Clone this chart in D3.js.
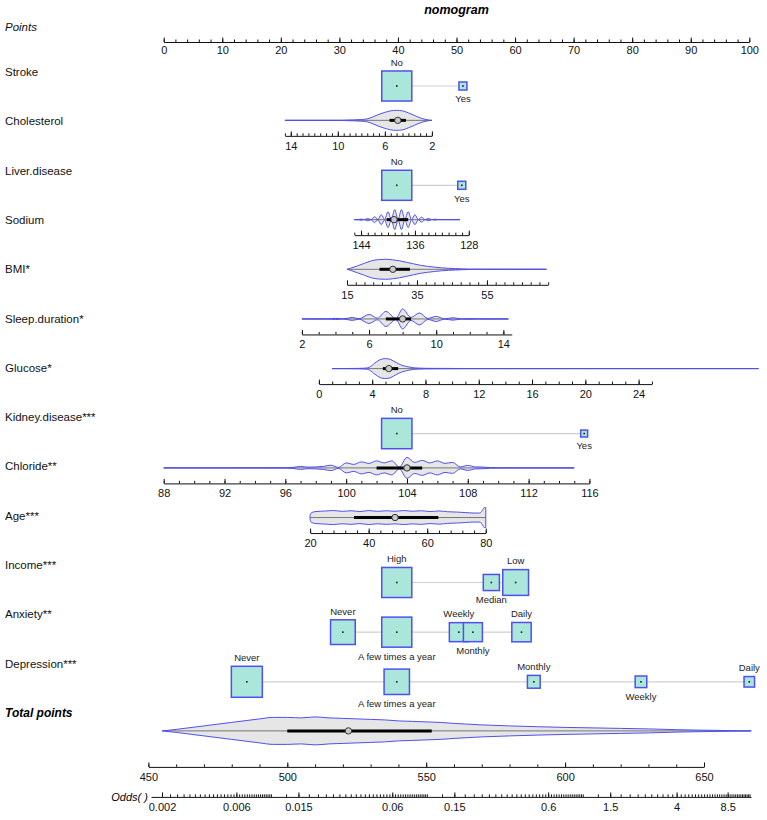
<!DOCTYPE html>
<html>
<head>
<meta charset="utf-8">
<script src="https://cdn.jsdelivr.net/npm/d3@7"></script>
<style>
  body { margin: 0; background: #fff; }
  svg { font-family: "Liberation Sans", Arial, sans-serif; }
</style>
</head>
<body>
<svg id="chart" width="767" height="820"></svg>
<script>
// ---- data ----
const pointLabels = [0, 10, 20, 30, 40, 50, 60, 70, 80, 90, 100];

const rowNames = ["Stroke", "Cholesterol", "Liver.disease", "Sodium", "BMI*", "Sleep.duration*",
  "Glucose*", "Kidney.disease***", "Chloride**", "Age***", "Income***", "Anxiety**", "Depression***"];

// categorical predictors: level, points, relative frequency (drives box size)
const strokeLevels = ["No", "Yes"];
const strokePoints = [39.8, 51.1];
const strokeShare = [0.94, 0.067];

const liverLevels = ["No", "Yes"];
const liverPoints = [39.8, 50.9];
const liverShare = [0.94, 0.067];

const kidneyLevels = ["No", "Yes"];
const kidneyPoints = [39.8, 71.8];
const kidneyShare = [0.96, 0.05];

const incomeLevels = ["High", "Median", "Low"];
const incomePoints = [39.8, 55.95, 60.1];
const incomeShare = [0.94, 0.27, 0.69];

const anxietyLevels = ["Never", "A few times a year", "Weekly", "Monthly", "Daily"];
const anxietyPoints = [30.6, 39.8, 50.4, 52.8, 61.1];
const anxietyShare = [0.635, 0.94, 0.376, 0.376, 0.39];

const depressionLevels = ["Never", "A few times a year", "Monthly", "Weekly", "Daily"];
const depressionPoints = [14.2, 39.8, 63.2, 81.5, 100];
const depressionShare = [1.0, 0.67, 0.17, 0.14, 0.115];

// continuous predictors: [value, points] anchors, axis extent, labels, minor step,
// density profile [value, relative density], median, IQR
const cholAnchor = [[2, 45.8], [14, 21.7]];
const cholExtent = [14.5, 2];
const cholLabels = [14, 10, 6, 2];
const cholMinor = 0.5;
const cholDensity = [[14.5, 0], [10, 0], [9.2, 0.03], [8, 0.08], [7.5, 0.15], [7, 0.35], [6.5, 0.6],
  [6, 0.8], [5.5, 0.95], [5, 1.0], [4.5, 0.95], [4, 0.75], [3.5, 0.5], [3, 0.25], [2.5, 0.08], [2, 0]];
const cholMedian = 4.9;
const cholIQR = [4.2, 5.6];

const sodiumAnchor = [[144, 33.7], [128, 52.1]];
const sodiumExtent = [145, 128];
const sodiumLabels = [144, 136, 128];
const sodiumMinor = 1;
const sodiumDensity = [[145, 0], [144.5, 0], [144, 0.06], [143.5, 0], [143, 0.12], [142.5, 0],
  [142, 0.3], [141.5, 0.01], [141, 0.5], [140.5, 0.02], [140, 0.8], [139.5, 0.03], [139, 1.0],
  [138.5, 0.03], [138, 1.0], [137.5, 0.03], [137, 0.8], [136.5, 0.02], [136, 0.5], [135.5, 0.01],
  [135, 0.25], [134.5, 0], [134, 0.12], [133.5, 0], [133, 0.05], [132.5, 0], [129.3, 0]];
const sodiumMedian = 139.1;
const sodiumIQR = [137, 140.2];

const bmiAnchor = [[15, 31.3], [55, 55.2]];
const bmiExtent = [15, 72.5];
const bmiLabels = [15, 35, 55];
const bmiMinor = 2.5;
const bmiDensity = [[15, 0], [16, 0.1], [18, 0.35], [20, 0.6], [22, 0.85], [24, 0.97], [26, 1.0],
  [28, 0.95], [30, 0.85], [32, 0.7], [34, 0.55], [36, 0.4], [38, 0.3], [40, 0.22], [42, 0.15],
  [44, 0.1], [46, 0.07], [48, 0.04], [50, 0.02], [55, 0.01], [60, 0.01], [65, 0.005], [72, 0]];
const bmiMedian = 28.1;
const bmiIQR = [24.3, 33];

const sleepAnchor = [[2, 23.6], [14, 58.0]];
const sleepExtent = [2, 14.5];
const sleepLabels = [2, 6, 10, 14];
const sleepMinor = 1;
const sleepDensity = [[2, 0], [3, 0.02], [3.5, 0], [4, 0.06], [4.5, 0.01], [5, 0.15], [5.4, 0.02],
  [6, 0.45], [6.5, 0.08], [7, 0.75], [7.6, 0.05], [8, 1.0], [8.5, 0.15], [9, 0.6], [9.5, 0.05],
  [10, 0.25], [10.5, 0.02], [11, 0.12], [11.5, 0.01], [12, 0.04], [12.5, 0], [13, 0.02], [14.3, 0]];
const sleepMedian = 8;
const sleepIQR = [7, 8.5];

const glucoseAnchor = [[0, 26.5], [16, 62.9]];
const glucoseExtent = [0, 25];
const glucoseLabels = [0, 4, 8, 12, 16, 20, 24];
const glucoseMinor = 1;
const glucoseDensity = [[1, 0], [3, 0.02], [3.5, 0.05], [3.8, 0.15], [4.2, 0.55], [4.6, 0.9],
  [5, 1.0], [5.4, 0.9], [5.8, 0.6], [6.2, 0.35], [6.6, 0.2], [7, 0.1], [7.5, 0.05], [8, 0.03],
  [9, 0.02], [10, 0.015], [11, 0.01], [12, 0.005], [14, 0.003], [20, 0.002], [33, 0]];
const glucoseMedian = 5.25;
const glucoseIQR = [4.8, 5.95];

const chlorideAnchor = [[88, 0], [116, 72.7]];
const chlorideExtent = [88, 116];
const chlorideLabels = [88, 92, 96, 100, 104, 108, 112, 116];
const chlorideMinor = 1;
const chlorideDensity = [[88, 0], [96, 0.02], [96.5, 0.05], [97, 0.15], [97.5, 0.08], [98, 0.1],
  [98.5, 0.15], [99, 0.27], [99.5, 0.05], [100, 0.5], [100.5, 0.35], [101, 0.6], [101.5, 0.45],
  [102, 0.7], [102.5, 0.5], [103, 0.7], [103.5, 0.1], [104, 1.05], [104.5, 0.55], [105, 0.75],
  [105.5, 0.5], [106, 0.7], [106.5, 0.45], [107, 0.55], [107.5, 0.1], [108, 0.25], [108.5, 0.1],
  [109, 0.08], [109.5, 0.03], [110, 0.01], [115, 0]];
const chlorideMedian = 104;
const chlorideIQR = [102, 105];

const ageAnchor = [[20, 25.0], [80, 55.0]];
const ageExtent = [20, 80];
const ageLabels = [20, 40, 60, 80];
const ageMinor = 4;
const ageDensity = [[20, 0.25], [20.5, 0.5], [22, 0.6], [25, 0.65], [28, 0.7], [31, 0.62], [34, 0.68],
  [37, 0.6], [40, 0.7], [43, 0.62], [46, 0.68], [49, 0.63], [52, 0.7], [55, 0.63], [58, 0.68],
  [61, 0.6], [64, 0.66], [67, 0.58], [70, 0.55], [73, 0.5], [76, 0.45], [78, 0.45], [79, 0.8],
  [79.5, 1.0], [80, 1.0]];
const ageMedian = 49;
const ageIQR = [35, 63.8];

// total points and odds
const totalLabels = [450, 500, 550, 600, 650];
const totalDensity = [[455, 0], [460, 0.15], [470, 0.5], [480, 0.85], [490, 1.2], [495, 1.35],
  [500, 1.35], [505, 1.3], [510, 1.4], [515, 1.3], [520, 1.25], [525, 1.2], [530, 1.15], [535, 1.1],
  [540, 1.0], [545, 0.95], [550, 0.9], [555, 0.85], [560, 0.75], [570, 0.6], [580, 0.5], [590, 0.42],
  [600, 0.35], [610, 0.3], [620, 0.25], [630, 0.2], [640, 0.12], [650, 0.07], [660, 0.03], [667, 0]];
const totalMedian = 522;
const totalIQR = [500, 552];

const oddsLabels = [0.002, 0.006, 0.015, 0.06, 0.15, 0.6, 1.5, 4, 8.5];

// ---- drawing ----
const svg = d3.select("#chart");
const BLUE = "#5050ee", FILL = "#e6e6e6", MINT = "#abe6da";

const x = d3.scaleLinear().domain([0, 100]).range([163.7, 749.3]);
const rowY = i => 72 + i * 49.3;          // label rows
const markY = i => 86 + i * 49.65;        // box centre rows
const halfH = d3.scaleLinear().domain([0, 1]).range([0, 10]);
const boxSide = d3.scaleSqrt().domain([0, 1]).range([0, 31]);

function varScale(anchor, extent) {
  const s = d3.scaleLinear().domain(anchor.map(d => d[0])).range(anchor.map(d => x(d[1])));
  return s.copy().domain(extent).range(extent.map(s));
}

function drawAxis(y, sc, labels, minorTicks, fmt, pad) {
  const gMinor = svg.append("g").attr("transform", `translate(0,${y})`)
    .call(d3.axisBottom(sc).tickValues(minorTicks).tickSize(-2.5).tickSizeOuter(0).tickFormat(""));
  gMinor.select(".domain").remove();
  const g = svg.append("g").attr("transform", `translate(0,${y})`)
    .call(d3.axisBottom(sc).tickValues(labels).tickSize(-4.5).tickSizeOuter(0).tickPadding(pad || 6)
      .tickFormat(fmt || (d => d)));
  [gMinor, g].forEach(a => {
    a.attr("font-family", null).attr("font-size", null);
    a.selectAll("line,path").attr("stroke", "#111");
  });
  g.selectAll("text").attr("font-size", "11px").attr("fill", "#111");
}

function minorValues(extent, step) {
  const lo = Math.min(...extent), hi = Math.max(...extent);
  return d3.range(Math.ceil(lo / step - 1e-9) * step, hi + 1e-9, step);
}

function drawViolin(y, sc, density, median, iqr) {
  const pts = density.slice().sort((a, b) => sc(a[0]) - sc(b[0]));
  const area = d3.area()
    .x(d => sc(d[0]))
    .y0(d => y + halfH(d[1]))
    .y1(d => y - halfH(d[1]))
    .curve(d3.curveMonotoneX);
  svg.append("path").attr("d", area(pts)).attr("fill", FILL);
  svg.append("line")
    .attr("x1", sc(pts[0][0])).attr("x2", sc(pts[pts.length - 1][0]))
    .attr("y1", y).attr("y2", y)
    .attr("stroke", "#777").attr("stroke-width", 1);
  svg.append("path").attr("d", area(pts)).attr("fill", "none")
    .attr("stroke", BLUE).attr("stroke-width", 1);
  svg.append("line")
    .attr("x1", sc(iqr[0])).attr("x2", sc(iqr[1]))
    .attr("y1", y).attr("y2", y)
    .attr("stroke", "#000").attr("stroke-width", 3);
  svg.append("circle").attr("cx", sc(median)).attr("cy", y).attr("r", 3.2)
    .attr("fill", "#c8c8c8").attr("stroke", "#333").attr("stroke-width", 1);
}

function drawContinuous(i, anchor, extent, labels, step, density, median, iqr) {
  const sc = varScale(anchor, extent);
  const vy = markY(i) - 15.3;
  drawViolin(vy, sc, density, median, iqr);
  drawAxis(vy + 15.5, sc, labels, minorValues(extent, step));
}

function drawFactor(i, levels, pts, share) {
  const cy = markY(i);
  const order = d3.range(levels.length).sort((a, b) => pts[a] - pts[b]);
  svg.append("line")
    .attr("x1", x(d3.min(pts))).attr("x2", x(d3.max(pts)))
    .attr("y1", cy).attr("y2", cy)
    .attr("stroke", "#cfcfcf").attr("stroke-width", 1.2);
  order.forEach((k, j) => {
    const s = boxSide(share[k]);
    const cx = x(pts[k]);
    svg.append("rect")
      .attr("x", cx - s / 2).attr("y", cy - s / 2)
      .attr("width", s).attr("height", s)
      .attr("fill", MINT).attr("stroke", BLUE).attr("stroke-width", 1.5);
    svg.append("rect")
      .attr("x", cx - 0.75).attr("y", cy - 0.75).attr("width", 1.5).attr("height", 1.5)
      .attr("fill", "#000");
    const above = j % 2 === 0;
    svg.append("text")
      .attr("x", cx)
      .attr("y", above ? cy - s / 2 - 8.5 : cy + s / 2 + 9)
      .attr("dy", "0.35em")
      .attr("text-anchor", "middle")
      .attr("font-size", "9.5px")
      .attr("fill", "#222")
      .text(levels[k]);
  });
}

// title and points axis
svg.append("text").attr("x", x(50)).attr("y", 14).attr("text-anchor", "middle")
  .attr("font-size", "12.5px").attr("font-weight", "bold").attr("font-style", "italic")
  .text("nomogram");
svg.append("text").attr("x", 5).attr("y", 31).attr("font-size", "11.5px")
  .attr("font-style", "italic").attr("fill", "#111").text("Points");
drawAxis(42, x, pointLabels, d3.range(0, 101, 2), null, 4);

// row labels
rowNames.forEach((name, i) => {
  svg.append("text").attr("x", 5).attr("y", rowY(i)).attr("dy", "0.35em")
    .attr("font-size", "11.5px").attr("fill", "#111").text(name);
});

drawFactor(0, strokeLevels, strokePoints, strokeShare);
drawContinuous(1, cholAnchor, cholExtent, cholLabels, cholMinor, cholDensity, cholMedian, cholIQR);
drawFactor(2, liverLevels, liverPoints, liverShare);
drawContinuous(3, sodiumAnchor, sodiumExtent, sodiumLabels, sodiumMinor, sodiumDensity, sodiumMedian, sodiumIQR);
drawContinuous(4, bmiAnchor, bmiExtent, bmiLabels, bmiMinor, bmiDensity, bmiMedian, bmiIQR);
drawContinuous(5, sleepAnchor, sleepExtent, sleepLabels, sleepMinor, sleepDensity, sleepMedian, sleepIQR);
drawContinuous(6, glucoseAnchor, glucoseExtent, glucoseLabels, glucoseMinor, glucoseDensity, glucoseMedian, glucoseIQR);
drawFactor(7, kidneyLevels, kidneyPoints, kidneyShare);
drawContinuous(8, chlorideAnchor, chlorideExtent, chlorideLabels, chlorideMinor, chlorideDensity, chlorideMedian, chlorideIQR);
drawContinuous(9, ageAnchor, ageExtent, ageLabels, ageMinor, ageDensity, ageMedian, ageIQR);
drawFactor(10, incomeLevels, incomePoints, incomeShare);
drawFactor(11, anxietyLevels, anxietyPoints, anxietyShare);
drawFactor(12, depressionLevels, depressionPoints, depressionShare);

// total points
const totalY = rowY(13);
svg.append("text").attr("x", 5).attr("y", totalY).attr("dy", "0.35em")
  .attr("font-size", "12px").attr("font-weight", "bold").attr("font-style", "italic")
  .text("Total points");
const tx = d3.scaleLinear().domain([450, 650]).range([148.4, 704]);
drawViolin(totalY + 18, tx, totalDensity, totalMedian, totalIQR);
drawAxis(totalY + 54, tx, totalLabels, d3.range(450, 651, 10));

// odds axis (log)
const ox = d3.scaleLog().domain([0.0017, 12]).range([151, 751]);
const oddsMinor = [].concat(
  d3.range(0.002, 0.01, 0.00025),
  d3.range(0.01, 0.1, 0.0025),
  d3.range(0.1, 1, 0.025),
  d3.range(1, 12, 0.25));
drawAxis(totalY + 84, ox, oddsLabels, oddsMinor, d => String(d));
svg.append("text").attr("x", 148).attr("y", totalY + 84).attr("dy", "0.35em")
  .attr("text-anchor", "end").attr("font-size", "11px").attr("font-style", "italic")
  .text("Odds(  )");
</script>
</body>
</html>
